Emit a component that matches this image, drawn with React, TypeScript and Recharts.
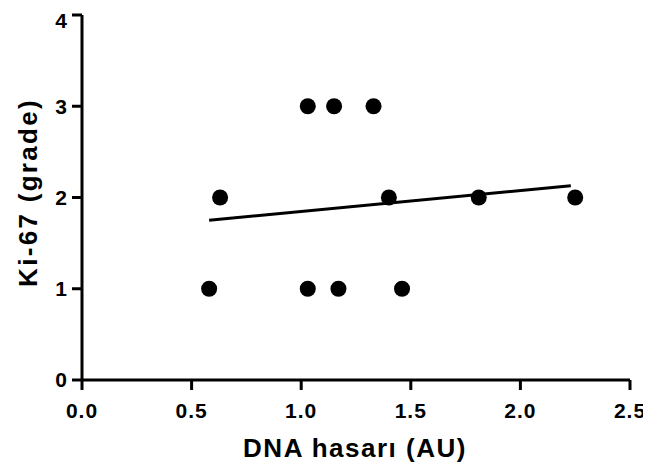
import React from "react"
import { ScatterChart, Scatter, XAxis, YAxis } from "recharts"

// DNA damage vs Ki-67 grade
const dnaDamage = [0.58, 0.63, 1.03, 1.15, 1.33, 1.03, 1.17, 1.46, 1.40, 1.81, 2.25]
const ki67Grade = [1, 2, 3, 3, 3, 1, 1, 1, 2, 2, 2]

// fitted line endpoints
const fitX = [0.58, 2.23]
const fitY = [1.75, 2.13]

const xTicks = [0, 0.5, 1.0, 1.5, 2.0, 2.5]
const yTicks = [0, 1, 2, 3, 4]

const points = dnaDamage.map((x, i) => ({ x, y: ki67Grade[i] }))
const fitLine = fitX.map((x, i) => ({ x, y: fitY[i] }))

const FONT = "'Liberation Sans', Arial, sans-serif"
const axisStyle = { stroke: "#000", strokeWidth: 3 }
const tickStyle = { fill: "#000", fontSize: 21, fontWeight: 700, fontFamily: FONT, letterSpacing: 1 }

const Dot = (props: any) => {
  const { cx, cy } = props
  if (cx == null || cy == null) return null
  return <circle cx={cx} cy={cy} r={8} fill="#000" />
}

const YTitle = ({ viewBox }: any) => {
  const cx = 20
  const cy = viewBox.y + viewBox.height / 2 - 5
  return (
    <text x={cx} y={cy} transform={`rotate(-90 ${cx} ${cy})`} textAnchor="middle"
          dominantBaseline="central" fill="#000" fontSize={26} fontWeight={700}
          fontFamily={FONT} letterSpacing={2.3}>
      Ki-67 (grade)
    </text>
  )
}

const XTitle = ({ viewBox }: any) => {
  const cx = viewBox.x + viewBox.width / 2 - 1
  return (
    <text x={cx} y={449} textAnchor="middle" fill="#000" fontSize={26} fontWeight={700}
          fontFamily={FONT} letterSpacing={1.5}>
      DNA hasarı (AU)
    </text>
  )
}

export default function App() {
  return (
    <ScatterChart width={643} height={464} margin={{ top: 7, right: 21, left: 0, bottom: 32 }}>
      <XAxis type="number" dataKey="x" domain={[0, 2.5]} ticks={xTicks} height={60}
             axisLine={axisStyle} tickLine={axisStyle} tickSize={10} tickMargin={13}
             tick={tickStyle} tickFormatter={(v: number) => v.toFixed(1)}
             allowDataOverflow label={<XTitle />} />
      <YAxis type="number" dataKey="y" domain={[0, 4]} ticks={yTicks} width={74}
             axisLine={axisStyle} tickLine={axisStyle} tickSize={10} tickMargin={4}
             tick={tickStyle} allowDataOverflow label={<YTitle />} />
      <Scatter data={points} shape={<Dot />} isAnimationActive={false} />
      <Scatter data={fitLine} line={{ stroke: "#000", strokeWidth: 3 }} shape={() => null}
               isAnimationActive={false} />
    </ScatterChart>
  )
}
